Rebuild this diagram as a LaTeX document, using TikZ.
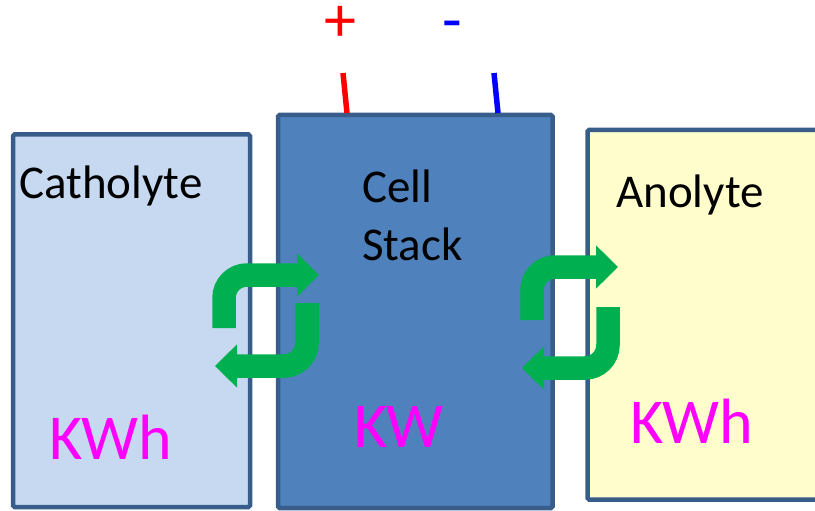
\documentclass[tikz,border=0pt]{standalone}
\usepackage{fontspec}
\setmainfont{Carlito}
\usepackage{tikz}
\usetikzlibrary{arrows.meta, positioning, calc}
\usepackage{xcolor}
\definecolor{tankline}{HTML}{385D8A}
\definecolor{cathfill}{HTML}{C6D9F1}
\definecolor{stackfill}{HTML}{4F81BD}
\definecolor{anofill}{HTML}{FFFDCC}
\definecolor{flowgreen}{HTML}{00B050}
\definecolor{unitpink}{HTML}{FF00FF}
\newcommand{\labelfont}{\fontsize{47}{58}\selectfont}
\newcommand{\unitfont}{\fontsize{64}{77}\selectfont}

\begin{document}
\begin{tikzpicture}[
    x=1pt, y=-1pt,
    tank/.style={
        draw=tankline,
        line width=4.5pt,
        rounded corners=1.5pt,
        inner sep=0pt
    },
    tanklabel/.style={anchor=base west, inner sep=0pt, font=\labelfont},
    unitlabel/.style={anchor=base west, inner sep=0pt, font=\unitfont, text=unitpink},
    flow/.style={
        draw=flowgreen,
        line width=23.5pt,
        rounded corners=23pt,
        -{Triangle[length=22pt,width=42pt]}
    },
    terminal/.style={line width=5.5pt}
]
\useasboundingbox (0,0) rectangle (815,511);

% Tanks and stack
\node[tank, fill=cathfill, minimum width=237pt, minimum height=372.5pt] (cath) at (131.5,320.75) {};
\node[tank, fill=stackfill, minimum width=274.5pt, minimum height=393pt] (stack) at (415.25,311.5) {};
\node[tank, fill=anofill, minimum width=252.5pt, minimum height=369.5pt] (ano) at (713.75,314.75) {};

% Labels
\node[tanklabel] (cathname) at (19,198) {Catholyte};
\node[tanklabel] (cellname) at (362,202) {Cell};
\node[tanklabel] (stackname) at (362,260) {Stack};
\node[tanklabel] (anoname) at (616,207) {Anolyte};

\node[unitlabel] (cathunit) at (49,459) {KWh};
\node[unitlabel] (stackunit) at (354,447) {KW};
\node[unitlabel] (anounit) at (630,443) {KWh};

% Terminals
\node[anchor=base, inner sep=0pt, font=\unitfont, text=red] (plus) at (340,42) {+};
\node[anchor=base, inner sep=0pt, font=\unitfont, text=blue] (minus) at (452,42) {-};

\coordinate (plusTop) at (343,73);
\coordinate (plusBot) at (347,113);
\coordinate (minusTop) at (494,73);
\coordinate (minusBot) at (498,113);
\draw[terminal, red] (plusTop) -- (plusBot);
\draw[terminal, blue] (minusTop) -- (minusBot);

% Flow between tanks and stack
\coordinate (cathOut) at (224,328);
\coordinate (stackIn) at (319,275);
\coordinate (stackOut) at (307,303);
\coordinate (cathIn) at (215,366);
\draw[flow] (cathOut) |- (stackIn);
\draw[flow] (stackOut) |- (cathIn);

\coordinate (stackOutR) at (532,320);
\coordinate (anoIn) at (618,267);
\coordinate (anoOut) at (608,307);
\coordinate (stackInR) at (522,368);
\draw[flow] (stackOutR) |- (anoIn);
\draw[flow] (anoOut) |- (stackInR);

\end{tikzpicture}
\end{document}
